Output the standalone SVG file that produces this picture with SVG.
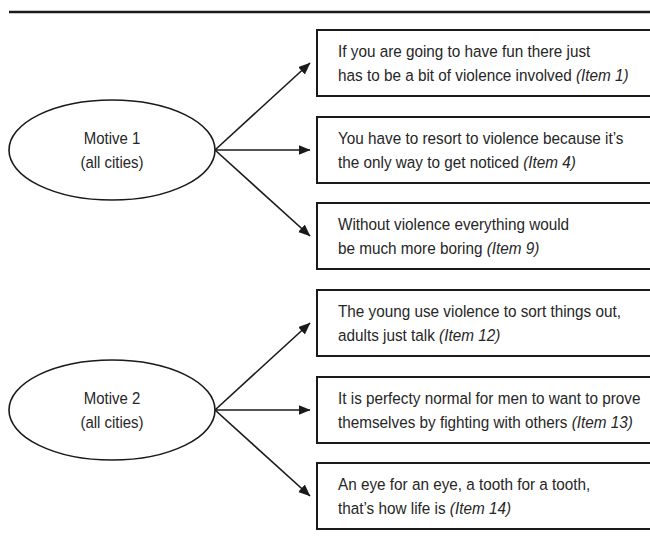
<svg xmlns="http://www.w3.org/2000/svg" width="650" height="544" viewBox="0 0 650 544">
<defs>
<marker id="arr" markerUnits="userSpaceOnUse" markerWidth="13" markerHeight="11" refX="11.5" refY="5" orient="auto">
<path d="M0,0 L12,5 L0,10 z" fill="#1a1a1a"/>
</marker>
<style>
.box{fill:#fff;stroke:#1a1a1a;stroke-width:2}
.ell{fill:#fff;stroke:#1a1a1a;stroke-width:1.6}
.con{stroke:#1a1a1a;stroke-width:1.6;fill:none;marker-end:url(#arr)}
text{font-family:"Liberation Sans",Arial,sans-serif;font-size:17px;fill:#262626}
.c{text-anchor:middle}
.it{font-style:italic}
</style>
</defs>
<rect width="650" height="544" fill="#fff"/>
<line x1="9" y1="12" x2="650" y2="12" stroke="#1a1a1a" stroke-width="2.3"/>

<g id="connectors">
<line class="con" x1="215" y1="150" x2="310" y2="63"/>
<line class="con" x1="215" y1="150" x2="310" y2="150"/>
<line class="con" x1="215" y1="150" x2="310" y2="236"/>
<line class="con" x1="215" y1="410" x2="310" y2="323"/>
<line class="con" x1="215" y1="410" x2="310" y2="410"/>
<line class="con" x1="215" y1="410" x2="310" y2="496"/>
</g>

<g id="motive1">
<ellipse class="ell" cx="112" cy="150" rx="103" ry="50"/>
<text class="c" transform="translate(112,144) scale(0.88,1)">Motive 1</text>
<text class="c" transform="translate(112,168) scale(0.88,1)">(all cities)</text>
</g>

<g id="motive2">
<ellipse class="ell" cx="112" cy="410" rx="103" ry="50"/>
<text class="c" transform="translate(112,404) scale(0.88,1)">Motive 2</text>
<text class="c" transform="translate(112,428) scale(0.88,1)">(all cities)</text>
</g>

<g id="item1">
<rect class="box" x="317" y="30" width="345" height="66"/>
<text transform="translate(338,57) scale(0.9,1)">If you are going to have fun there just</text>
<text transform="translate(338,81) scale(0.9,1)">has to be a bit of violence involved <tspan class="it">(Item 1)</tspan></text>
</g>

<g id="item4">
<rect class="box" x="317" y="117" width="345" height="66"/>
<text transform="translate(338,144) scale(0.9,1)">You have to resort to violence because it’s</text>
<text transform="translate(338,168) scale(0.9,1)">the only way to get noticed <tspan class="it">(Item 4)</tspan></text>
</g>

<g id="item9">
<rect class="box" x="317" y="203" width="345" height="66"/>
<text transform="translate(338,230) scale(0.9,1)">Without violence everything would</text>
<text transform="translate(338,254) scale(0.9,1)">be much more boring <tspan class="it">(Item 9)</tspan></text>
</g>

<g id="item12">
<rect class="box" x="317" y="290" width="345" height="66"/>
<text transform="translate(338,317) scale(0.9,1)">The young use violence to sort things out,</text>
<text transform="translate(338,341) scale(0.9,1)">adults just talk <tspan class="it">(Item 12)</tspan></text>
</g>

<g id="item13">
<rect class="box" x="317" y="377" width="345" height="66"/>
<text transform="translate(338,404) scale(0.9,1)">It is perfecty normal for men to want to prove</text>
<text transform="translate(338,428) scale(0.9,1)">themselves by fighting with others <tspan class="it">(Item 13)</tspan></text>
</g>

<g id="item14">
<rect class="box" x="317" y="463" width="345" height="66"/>
<text transform="translate(338,490) scale(0.9,1)">An eye for an eye, a tooth for a tooth,</text>
<text transform="translate(338,514) scale(0.9,1)">that’s how life is <tspan class="it">(Item 14)</tspan></text>
</g>
</svg>
